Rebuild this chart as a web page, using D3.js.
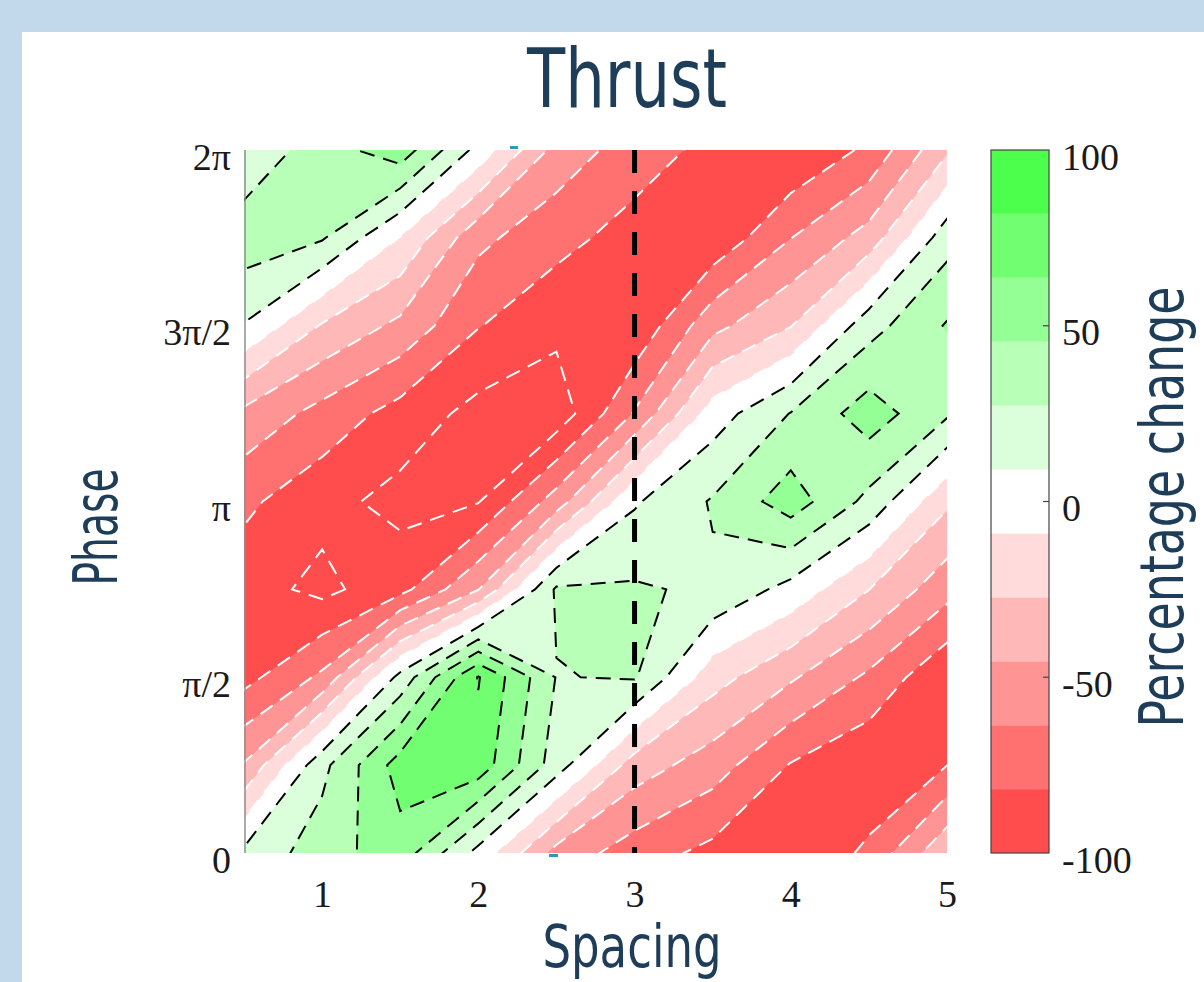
<!DOCTYPE html>
<html>
<head>
<meta charset="utf-8">
<script src="https://cdn.jsdelivr.net/npm/d3@7"></script>
<style>
  body { margin: 0; background: #c2d8eb; }
  svg { display: block; }
</style>
</head>
<body>
<div id="chart"></div>
<script>
// Thrust: percentage change over spacing x phase.
// columns follow `spacing`, each row is one phase step of pi/4 (phase0 = 0)
const spacing = [0.5, 1, 1.5, 2, 2.5, 3, 3.5, 4, 4.5, 5];
const phaseStep = Math.PI / 4;
const phase0 = [13, 37, 56, 3, -52, -73, -87, -99, -78, -30];
const phase1 = [-44, 22, 72, 75, 18, -36, -55, -83, -97, -82];
const phase2 = [-88, -60, 15, 83, 26.5, 29, -20, -43, -67, -98];
const phase3 = [-92, -105, -88, -46, 30, 29.5, 24, 3, -27, -57];
const phase4 = [-78, -94, -106, -101, -55, 7, 29, 55, 22, -24];
const phase5 = [-50, -70, -89, -106, -112, -62, 0, 28, 55, 30];
const phase6 = [8, -29, -50, -81, -95, -97, -51, -28, 20, 47];
const phase7 = [38, 29, -10, -59, -76, -89, -96, -64, -38, 20];
const phase8 = [13, 37, 56, 3, -52, -73, -87, -99, -78, -30];

const levels = [-100, -81.82, -63.64, -45.45, -27.27, -9.09, 9.09, 27.27, 45.45, 63.64, 81.82, 100];
const bandColors = ["#ff4d4d", "#ff7171", "#ff9494", "#ffb8b8", "#ffdbdb", "#ffffff",
                    "#dbffdb", "#b8ffb8", "#94ff94", "#71ff71", "#4dff4d"];
const spacingTicks = [1, 2, 3, 4, 5];
const phaseTicks = [0, 1, 2, 3, 4];          // multiples of pi/2
const phaseLabels = ["0", "π/2", "π", "3π/2", "2π"];
const colorTicks = [-100, -50, 0, 50, 100];
const dividerSpacing = 3;

const rows = [phase0, phase1, phase2, phase3, phase4, phase5, phase6, phase7, phase8];
const nx = spacing.length, ny = rows.length;
const grid = rows.flat();

const width = 1204, height = 982;
const navy = "#1e3d59";
const titleFont = "'Liberation Sans Narrow', 'DejaVu Sans Condensed', 'Liberation Sans', sans-serif";
const tickFont = "'Liberation Serif', 'Times New Roman', serif";

const svg = d3.select("#chart").append("svg")
    .attr("width", width)
    .attr("height", height);

svg.append("rect").attr("width", width).attr("height", height).attr("fill", "#c2d8eb");
svg.append("rect").attr("x", 22).attr("y", 32)
    .attr("width", width - 22).attr("height", height - 32).attr("fill", "#fff");

const x = d3.scaleLinear().domain(d3.extent(spacing)).range([244, 947]);
const y = d3.scaleLinear().domain([0, (ny - 1) * phaseStep]).range([853, 150]);
const color = d3.scaleThreshold().domain(levels.slice(1, -1)).range(bandColors);

// contour grid coords -> data -> pixels (grid value i sits at i + 0.5)
const gx = d3.scaleLinear().domain([0.5, nx - 0.5]).range(d3.extent(spacing));
const gy = d3.scaleLinear().domain([0.5, ny - 0.5]).range([0, (ny - 1) * phaseStep]);
const proj = d3.geoTransform({
    point(px, py) { this.stream.point(x(gx(px)), y(gy(py))); }
});
const path = d3.geoPath(proj);

// green side: regions >= level, red side: regions <= level (negated grid)
const upper = d3.contours().size([nx, ny])
    .thresholds(levels.filter(l => l > 0))(grid);
const lower = d3.contours().size([nx, ny])
    .thresholds(levels.filter(l => l < 0).map(l => -l))(grid.map(v => -v));

svg.append("clipPath").attr("id", "plotClip")
  .append("rect")
    .attr("x", x(0.5)).attr("y", y.range()[1])
    .attr("width", x(5) - x(0.5)).attr("height", y.range()[0] - y.range()[1]);

const plot = svg.append("g").attr("clip-path", "url(#plotClip)");

plot.append("rect")
    .attr("x", x(0.5)).attr("y", y.range()[1])
    .attr("width", x(5) - x(0.5)).attr("height", y.range()[0] - y.range()[1])
    .attr("fill", "#fff");

plot.append("g").selectAll("path")
    .data(lower).join("path")
    .attr("d", path)
    .attr("fill", d => color(-d.value - 0.01));

plot.append("g").selectAll("path")
    .data(upper).join("path")
    .attr("d", path)
    .attr("fill", d => color(d.value));

plot.append("g").selectAll("path")
    .data(lower).join("path")
    .attr("d", path)
    .attr("fill", "none")
    .attr("stroke", "#fff")
    .attr("stroke-width", 2)
    .attr("stroke-dasharray", "15,9");

plot.append("g").selectAll("path")
    .data(upper).join("path")
    .attr("d", path)
    .attr("fill", "none")
    .attr("stroke", "#000")
    .attr("stroke-width", 2)
    .attr("stroke-dasharray", "15,9");

// left axis line
svg.append("line")
    .attr("x1", x(0.5) + 1).attr("x2", x(0.5) + 1)
    .attr("y1", y.range()[1]).attr("y2", y.range()[0])
    .attr("stroke", "#8f8f8f").attr("stroke-width", 1.5);

// dashed divider at spacing 3
svg.append("line")
    .attr("x1", x(dividerSpacing)).attr("x2", x(dividerSpacing))
    .attr("y1", y.range()[1]).attr("y2", y.range()[0])
    .attr("stroke", "#000").attr("stroke-width", 5)
    .attr("stroke-dasharray", "23,18");

// small teal marks on the frame
svg.append("rect").attr("x", 510).attr("y", 146).attr("width", 8).attr("height", 3).attr("fill", "#2a9cb8");
svg.append("rect").attr("x", 549).attr("y", 854).attr("width", 9).attr("height", 3).attr("fill", "#2a9cb8");

// axes
const xAxis = svg.append("g")
    .attr("transform", `translate(0,${y(0)})`)
    .call(d3.axisBottom(x).tickValues(spacingTicks).tickFormat(d3.format("d"))
        .tickSize(0).tickPadding(27));
xAxis.select(".domain").remove();

const yAxis = svg.append("g")
    .attr("transform", `translate(${x(0.5)},0)`)
    .call(d3.axisLeft(y)
        .tickValues(phaseTicks.map(k => k * Math.PI / 2))
        .tickFormat((d, i) => phaseLabels[i])
        .tickSize(0).tickPadding(13));
yAxis.select(".domain").remove();
yAxis.selectAll("text").attr("dy", "0.5em");

[xAxis, yAxis].forEach(a => a.selectAll("text")
    .style("font-family", tickFont)
    .style("font-size", "38px")
    .attr("fill", "#1a1a1a"));

// colorbar
const cbX = 991, cbW = 58;
const cb = d3.scaleLinear().domain([-100, 100]).range([853, 150]);
svg.append("g").selectAll("rect")
    .data(bandColors).join("rect")
    .attr("x", cbX)
    .attr("y", (c, i) => cb(levels[i + 1]))
    .attr("width", cbW)
    .attr("height", (c, i) => cb(levels[i]) - cb(levels[i + 1]))
    .attr("fill", c => c);
svg.append("rect")
    .attr("x", cbX).attr("y", cb(100))
    .attr("width", cbW).attr("height", cb(-100) - cb(100))
    .attr("fill", "none").attr("stroke", "#444").attr("stroke-width", 1.2);
svg.append("g").selectAll("line")
    .data(colorTicks.slice(1, -1)).join("line")
    .attr("x1", cbX + cbW - 6).attr("x2", cbX + cbW)
    .attr("y1", d => cb(d)).attr("y2", d => cb(d))
    .attr("stroke", "#444").attr("stroke-width", 1.2);

const cAxis = svg.append("g")
    .attr("transform", `translate(${cbX + cbW},0)`)
    .call(d3.axisRight(cb).tickValues(colorTicks).tickFormat(d => String(d))
        .tickSize(0).tickPadding(13));
cAxis.select(".domain").remove();
cAxis.selectAll("text")
    .attr("dy", "0.5em")
    .style("font-family", tickFont)
    .style("font-size", "38px")
    .attr("fill", "#1a1a1a");

// titles
svg.append("text")
    .attr("x", 627).attr("y", 107)
    .attr("text-anchor", "middle")
    .attr("textLength", 200).attr("lengthAdjust", "spacingAndGlyphs")
    .style("font-family", titleFont).style("font-size", "82px")
    .attr("fill", navy)
    .text("Thrust");

svg.append("text")
    .attr("x", 632).attr("y", 967)
    .attr("text-anchor", "middle")
    .attr("textLength", 179).attr("lengthAdjust", "spacingAndGlyphs")
    .style("font-family", titleFont).style("font-size", "58px")
    .attr("fill", navy)
    .text("Spacing");

svg.append("text")
    .attr("transform", "translate(117,527) rotate(-90)")
    .attr("text-anchor", "middle")
    .attr("textLength", 117).attr("lengthAdjust", "spacingAndGlyphs")
    .style("font-family", titleFont).style("font-size", "60px")
    .attr("fill", navy)
    .text("Phase");

svg.append("text")
    .attr("transform", "translate(1183,507) rotate(-90)")
    .attr("text-anchor", "middle")
    .attr("textLength", 441).attr("lengthAdjust", "spacingAndGlyphs")
    .style("font-family", titleFont).style("font-size", "60px")
    .attr("fill", navy)
    .text("Percentage change");
</script>
</body>
</html>
